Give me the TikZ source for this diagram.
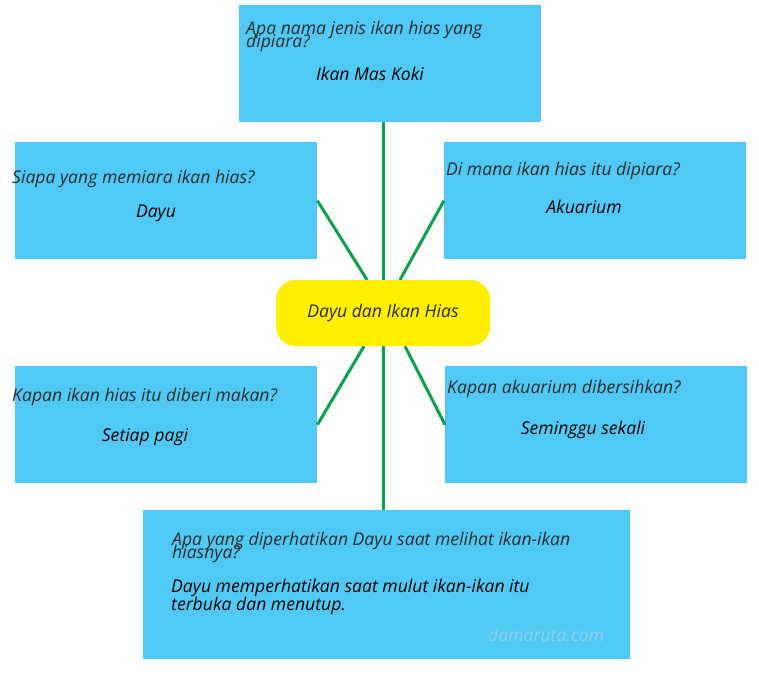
\documentclass[tikz,border=0pt]{standalone}
\usepackage{fontspec}
\setmainfont{Open Sans}
\begin{document}
\begin{tikzpicture}[x=1pt,y=-1pt,
  box/.style={draw=none,fill=boxblue,minimum width=302pt,minimum height=117pt,inner sep=0pt,anchor=north west},
  txt/.style={inner sep=0pt,font=\fontsize{17.6}{15}\selectfont\itshape},
  q/.style={txt,anchor=base west,text=qgray},
  a/.style={txt,anchor=base,text=black},
  al/.style={txt,anchor=base west,text=black},
  hub/.style={txt,fill=cyellow,rounded corners=20pt,minimum width=214pt,minimum height=66pt,text=qgray},
  link/.style={draw=linkgreen,line width=3pt}]
\definecolor{boxblue}{HTML}{50C9F5}
\definecolor{qgray}{HTML}{2B2B2B}
\definecolor{linkgreen}{HTML}{0BA04C}
\definecolor{wm}{HTML}{8FD3EC}
\definecolor{cyellow}{HTML}{FFF000}
\useasboundingbox (0,0) rectangle (759,673);
\fill[white] (0,0) rectangle (759,673);
% boxes
\node[box] (top) at (239,5) {};
\node[box] (lu) at (15,142) {};
\node[box] (ru) at (444,142) {};
\node[box] (ll) at (15,366) {};
\node[box] (rl) at (445,366) {};
\node[box,minimum width=487pt,minimum height=149pt] (bot) at (143,510) {};
% center (placed first for anchors)
\node[hub] (c) at (383,313) {Dayu dan Ikan Hias};
% connectors
\draw[link] (c.north) -- (c.north |- top.south);
\draw[link] (c.south) -- (c.south |- bot.north);
\draw[link] (lu.east) -- ([xshift=-16pt]c.north);
\draw[link] (ru.west) -- ([xshift=17pt]c.north);
\draw[link] ([xshift=-19pt]c.south) -- (ll.east);
\draw[link] ([xshift=22pt]c.south) -- (rl.west);
% redraw center on top of connectors
\node[hub] (c2) at (c) {Dayu dan Ikan Hias};
% texts
\node[q] (t1) at (246,34) {Apa nama jenis ikan hias yang};
\node[q] (t2) at (246,47) {dipiara?};
\node[a] (t3) at (370,80) {Ikan Mas Koki};
\node[q] (lu1) at (12,183) {Siapa yang memiara ikan hias?};
\node[a] (lu2) at (156,217) {Dayu};
\node[q] (ru1) at (446,175) {Di mana ikan hias itu dipiara?};
\node[a] (ru2) at (584,213) {Akuarium};
\node[q] (ll1) at (12,401) {Kapan ikan hias itu diberi makan?};
\node[a] (ll2) at (145,441) {Setiap pagi};
\node[q] (rl1) at (447,393) {Kapan akuarium dibersihkan?};
\node[a] (rl2) at (583,434) {Seminggu sekali};
\node[q] (b1) at (172,545) {Apa yang diperhatikan Dayu saat melihat ikan-ikan};
\node[q] (b2) at (172,558) {hiasnya?};
\node[al] (b3) at (171,592) {Dayu memperhatikan saat mulut ikan-ikan itu};
\node[al] (b4) at (171,610) {terbuka dan menutup.};
\node[al,text=wm] (w) at (488,641) {damaruta.com};
\end{tikzpicture}
\end{document}
